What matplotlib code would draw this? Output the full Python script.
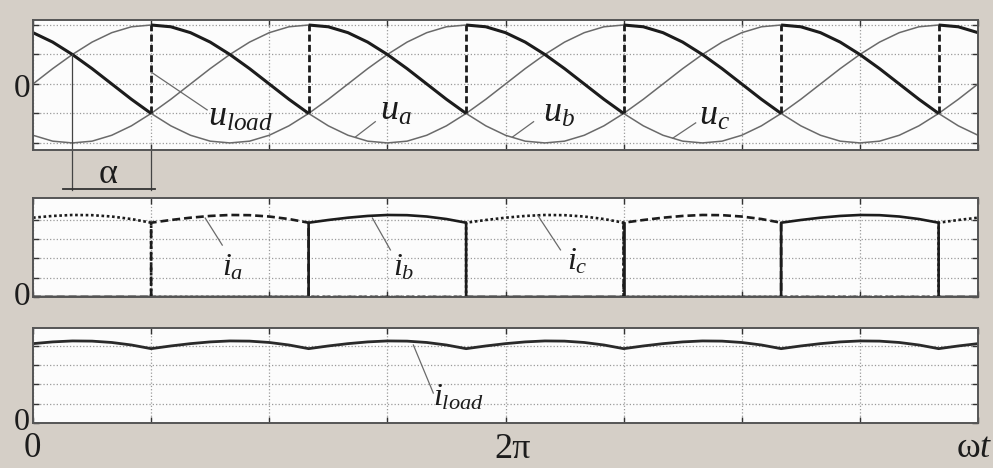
import numpy as np
import matplotlib.pyplot as plt

plt.rcParams['mathtext.fontset'] = 'custom'
plt.rcParams['mathtext.it'] = 'Liberation Serif:italic'
plt.rcParams['mathtext.rm'] = 'Liberation Serif'

# sample angles (deg), 15 deg apart, two mains periods
theta = np.arange(0, 721, 15)

# phase voltages (per unit of peak)
u_a = [0, .26, .5, .71, .87, .97, 1, .97, .87, .71, .5, .26,
       0, -.26, -.5, -.71, -.87, -.97, -1, -.97, -.87, -.71, -.5, -.26,
       0, .26, .5, .71, .87, .97, 1, .97, .87, .71, .5, .26,
       0, -.26, -.5, -.71, -.87, -.97, -1, -.97, -.87, -.71, -.5, -.26, 0]
u_b = [-.87, -.97, -1, -.97, -.87, -.71, -.5, -.26, 0, .26, .5, .71,
       .87, .97, 1, .97, .87, .71, .5, .26, 0, -.26, -.5, -.71,
       -.87, -.97, -1, -.97, -.87, -.71, -.5, -.26, 0, .26, .5, .71,
       .87, .97, 1, .97, .87, .71, .5, .26, 0, -.26, -.5, -.71, -.87]
u_c = [.87, .71, .5, .26, 0, -.26, -.5, -.71, -.87, -.97, -1, -.97,
       -.87, -.71, -.5, -.26, 0, .26, .5, .71, .87, .97, 1, .97,
       .87, .71, .5, .26, 0, -.26, -.5, -.71, -.87, -.97, -1, -.97,
       -.87, -.71, -.5, -.26, 0, .26, .5, .71, .87, .97, 1, .97, .87]

# load current (grid units)
i_load = [4.11, 4.20, 4.25, 4.24, 4.17, 4.04, 3.85, 3.99,
          4.11, 4.20, 4.25, 4.24, 4.17, 4.04, 3.85, 3.99,
          4.11, 4.20, 4.25, 4.24, 4.17, 4.04, 3.85, 3.99,
          4.11, 4.20, 4.25, 4.24, 4.17, 4.04, 3.85, 3.99,
          4.11, 4.20, 4.25, 4.24, 4.17, 4.04, 3.85, 3.99,
          4.11, 4.20, 4.25, 4.24, 4.17, 4.04, 3.85, 3.99, 4.11]

# which thyristor conducts: phase, from, to (deg)
conduction = [('c', 0, 90), ('a', 90, 210), ('b', 210, 330), ('c', 330, 450),
              ('a', 450, 570), ('b', 570, 690), ('c', 690, 720)]

phase_u = {'a': np.array(u_a), 'b': np.array(u_b), 'c': np.array(u_c)}
i_load = np.array(i_load)

bg = '#d5cfc7'
dark = '#1c1c1c'
grey = '#6a6a6a'

fig = plt.figure(figsize=(9.93, 4.68), dpi=100, facecolor=bg)
W, H = 993, 468


def panel(top, bottom):
    ax = fig.add_axes([33 / W, 1 - bottom / H, 945 / W, (bottom - top) / H])
    ax.set_facecolor('#fcfcfc')
    ax.set_xlim(0, 720)
    ax.set_xticks(np.arange(0, 721, 90))
    ax.tick_params(direction='in', length=4, width=1, color='#333',
                   top=True, right=True, labelleft=False, labelbottom=False)
    ax.grid(True, ls=':', color='#9a9a9a', lw=0.9)
    for s in ax.spines.values():
        s.set_color('#555')
        s.set_linewidth(1.4)
    return ax


ax1 = panel(20, 150)
ax2 = panel(198, 297)
ax3 = panel(328, 423)

# --- voltages
ax1.set_ylim(-1.12, 1.085)
ax1.set_yticks([-1, -0.5, 0, 0.5, 1])
for ph in 'abc':
    ax1.plot(theta, phase_u[ph], color=grey, lw=1.1)

prev = None
for ph, t0, t1 in conduction:
    m = (theta >= t0) & (theta <= t1)
    seg = phase_u[ph][m]
    ax1.plot(theta[m], seg, color=dark, lw=2.2, solid_capstyle='butt')
    if prev is not None:
        ax1.plot([t0, t0], [prev, seg[0]], color=dark, lw=2, ls=(0, (2.5, 1.2)))
    prev = seg[-1]

serif = 'Liberation Serif'
ax1.plot([90.8, 132.7], [0.19, -0.44], color=grey, lw=0.9)
ax1.text(133, -0.71, r'$u_{load}$', fontsize=26, color=dark)
ax1.plot([245.6, 260.8], [-0.9, -0.64], color=grey, lw=0.9)
ax1.text(264.7, -0.61, r'$u_{a}$', fontsize=26, color=dark)
ax1.plot([365.3, 381.4], [-0.9, -0.64], color=grey, lw=0.9)
ax1.text(388.2, -0.64, r'$u_{b}$', fontsize=26, color=dark)
ax1.plot([487.4, 504.9], [-0.92, -0.66], color=grey, lw=0.9)
ax1.text(507.2, -0.69, r'$u_{c}$', fontsize=26, color=dark)

# firing angle dimension
ax1.plot([30, 30], [0.5, -1.8], color='#444', lw=0.9, clip_on=False)
ax1.plot([90, 90], [-1.12, -1.8], color='#444', lw=0.9, clip_on=False)
ax1.plot([23, 93], [-1.78, -1.78], color='#333', lw=1.3, clip_on=False)
ax1.text(57.2, -1.68, 'α', family=serif, fontsize=26, ha='center', color=dark)

# --- phase currents
ax2.set_ylim(0, 5.13)
ax2.set_yticks([0, 1, 2, 3, 4])
styles = {'a': (0, (3, 1.5)), 'b': '-', 'c': (0, (1, 1))}
for ph in 'abc':
    xs, ys = [], []
    for p, t0, t1 in conduction:
        m = (theta >= t0) & (theta <= t1)
        if p == ph:
            sx, sy = list(theta[m]), list(i_load[m])
            if t0 > 0:
                sx, sy = [t0] + sx, [0] + sy
            if t1 < 720:
                sx, sy = sx + [t1], sy + [0]
        else:
            sx, sy = [t0, t1], [0, 0]
        xs += sx
        ys += sy
    ax2.plot(xs, ys, color=dark, lw=1.9, ls=styles[ph])

# the second i_a front is drawn solid in the original
m = theta == 450
ax2.plot([450, 450], [0, i_load[m][0]], color=dark, lw=1.9)

ax2.plot([131.2, 144.2], [4.09, 2.69], color=grey, lw=0.9)
ax2.text(144.2, 1.14, r'$i_{a}$', fontsize=23, color=dark)
ax2.plot([258.6, 272.3], [4.09, 2.44], color=grey, lw=0.9)
ax2.text(274.6, 1.14, r'$i_{b}$', fontsize=23, color=dark)
ax2.plot([384.4, 401.9], [4.25, 2.44], color=grey, lw=0.9)
ax2.text(407.2, 1.4, r'$i_{c}$', fontsize=23, color=dark)

# --- load current
ax3.set_ylim(0, 4.92)
ax3.set_yticks([0, 1, 2, 3, 4])
ax3.plot(theta, i_load, color='#2a2a2a', lw=2.0)
ax3.plot([289.8, 305], [4.04, 1.55], color=grey, lw=0.9)
ax3.text(305, 0.93, r'$i_{load}$', fontsize=23, color=dark)

# zero labels on the left
ax1.text(-2.3, -0.22, '0', family=serif, fontsize=24, ha='right', color=dark, clip_on=False)
ax2.text(-2.3, -0.41, '0', family=serif, fontsize=24, ha='right', color=dark, clip_on=False)
ax3.text(-2.3, -0.38, '0', family=serif, fontsize=23, ha='right', color=dark, clip_on=False)

# angle axis labels
ax3.text(-0.2, -1.74, '0', family=serif, fontsize=25, ha='center', color=dark, clip_on=False)
ax3.text(365.3, -1.8, '2π', family=serif, fontsize=26, ha='center', color=dark, clip_on=False)
ax3.text(731.4, -1.75, 'ω$t$', family=serif, fontsize=26, ha='right', color=dark, clip_on=False)

fig.savefig('out.png', dpi=100, facecolor=bg)
